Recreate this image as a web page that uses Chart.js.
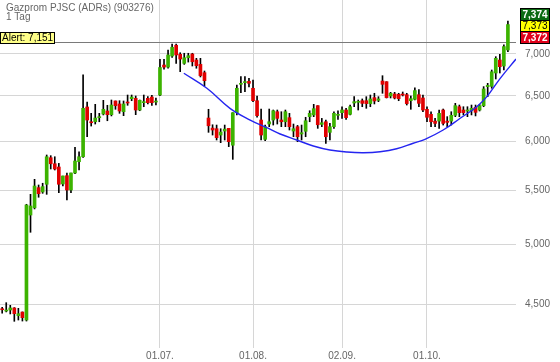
<!DOCTYPE html>
<html>
<head>
<meta charset="utf-8">
<script src="https://cdn.jsdelivr.net/npm/chart.js@4.4.0/dist/chart.umd.min.js"></script>
<style>
  html, body { margin: 0; padding: 0; background: #fff; }
</style>
</head>
<body>
<canvas id="chart" width="560" height="362"></canvas>
<script>
// daily candles, index 0 = first trading day shown
const opens = [4462,4447,4455,4471,4411,4439,4377,5268,5336,5529,5487,5562,5829,5767,5734,5565,5647,5506,5674,5788,
  5839,6375,6211,6211,6256,6297,6330,6289,6443,6409,6322,6431,6469,6473,6341,6424,6473,6488,6431,6511,
  6865,6840,6975,7109,6996,6885,6954,7000,6926,6873,6773,6252,6142,6135,6067,6110,6139,5959,6311,6635,
  6655,6670,6589,6446,6230,6021,6186,6230,6322,6230,6211,6256,6110,6157,6078,6107,6267,6286,6390,6182,
  6211,6096,6157,6282,6311,6341,6293,6420,6428,6446,6446,6413,6481,6451,6674,6666,6500,6523,6519,6519,
  6515,6446,6462,6515,6477,6349,6293,6218,6218,6341,6218,6218,6282,6378,6341,6330,6333,6371,6341,6390,
  6608,6611,6769,6926,6853,7050]
const highs = [4476,4513,4492,4474,4468,4440,5369,5464,5611,5555,5572,5857,5850,5839,5771,5644,5674,5674,5937,5891,
  6746,6431,6304,6405,6304,6450,6394,6454,6443,6446,6443,6511,6511,6500,6454,6511,6492,6508,6477,6935,
  6935,7050,7125,7125,7016,7009,7009,7009,6947,6947,6793,6349,6178,6175,6135,6175,6139,6311,6627,6725,
  6725,6706,6686,6500,6352,6175,6352,6341,6341,6322,6341,6304,6186,6171,6175,6260,6333,6405,6390,6248,
  6230,6193,6322,6333,6378,6360,6397,6492,6454,6466,6492,6511,6531,6492,6737,6666,6542,6542,6531,6546,
  6531,6500,6593,6573,6511,6378,6322,6248,6341,6352,6267,6322,6416,6397,6378,6378,6397,6397,6405,6608,
  6647,6805,6967,6996,7113,7420]
const lows = [4430,4440,4424,4367,4377,4369,4369,5110,5325,5436,5474,5464,5714,5704,5480,5545,5410,5480,5667,5704,
  5833,6049,6164,6186,6211,6286,6222,6275,6349,6304,6278,6394,6446,6289,6333,6378,6409,6394,6397,6504,
  6814,6826,6959,6884,6785,6873,6901,6853,6826,6722,6615,6096,6067,6014,5986,6014,5944,5812,6286,6538,
  6550,6604,6435,6260,6014,6007,6157,6175,6186,6157,6157,6121,6049,5996,6014,6049,6211,6267,6139,6157,
  5979,6014,6139,6237,6248,6237,6286,6378,6341,6378,6360,6378,6409,6435,6531,6477,6477,6466,6446,6500,
  6397,6349,6454,6378,6322,6211,6157,6157,6139,6175,6157,6175,6267,6267,6286,6267,6286,6275,6330,6378,
  6492,6589,6698,6769,6805,7029]
const closes = [4457,4455,4471,4426,4426,4395,5362,5353,5545,5470,5539,5839,5767,5714,5562,5644,5506,5674,5795,5839,
  6360,6230,6200,6252,6267,6349,6289,6397,6390,6330,6409,6420,6488,6341,6450,6435,6424,6424,6439,6835,
  6840,6988,7084,6988,6938,6954,6979,6905,6857,6738,6678,6167,6121,6039,6099,6131,5996,6311,6589,6647,
  6666,6647,6446,6278,6067,6157,6211,6333,6248,6211,6322,6157,6135,6049,6092,6222,6304,6356,6178,6200,
  6049,6157,6304,6293,6341,6256,6378,6435,6435,6416,6413,6466,6443,6466,6635,6481,6531,6477,6469,6511,
  6413,6469,6562,6416,6341,6260,6211,6193,6304,6193,6204,6282,6390,6311,6311,6341,6360,6315,6390,6581,
  6623,6784,6947,6845,7092,7373]

// hand drawn trend arc (candle index, price)
const arcIdx = [44.9,50.6,56.3,61.3,65.4,68.7,72.8,76.9,81.0,85.2,89.3,93.4,97.5,101.6,104.5,109.0,113.2,117.3,119.8,123.1,127.0]
const arcVal = [6766,6589,6360,6230,6146,6078,6014,5951,5909,5888,5881,5891,5922,5980,6021,6121,6249,6378,6492,6706,6938]

const xTickIdx = [39, 62, 84, 105]
const xTickLabels = ['01.07.', '01.08.', '02.09.', '01.10.']
const yTicks = [4500, 5000, 5500, 6000, 6500, 7000]

const alertLevel = 7151
const quoteAsk = 7374, quoteLast = 7373, quoteBid = 7372

const GREEN = '#3cb300'
const RED = '#e00000'
const FONT = "'Liberation Sans', Arial, sans-serif"

const fmt = v => Number(v).toLocaleString('en-US')

const wicks = opens.map((o, i) => ({ x: i, y: [lows[i], highs[i]] }))
const bodies = opens.map((o, i) => ({ x: i, y: [o, closes[i]] }))
const bodyColors = opens.map((o, i) => closes[i] >= o ? GREEN : RED)
const arc = arcIdx.map((x, i) => ({ x: x, y: arcVal[i] }))

// no label overflow padding, the plot runs right to the canvas edges
function noPad(s) {
    s.paddingTop = 0
    s.paddingBottom = 0
    s.paddingLeft = 0
    s.paddingRight = 0
}

const overlay = {
    id: 'overlay',
    beforeDatasetsDraw(chart) {
        const { ctx, chartArea } = chart
        const y = Math.round(chart.scales.y.getPixelForValue(alertLevel)) + 0.5
        ctx.save()
        ctx.strokeStyle = '#7a7a7a'
        ctx.lineWidth = 1
        ctx.beginPath()
        ctx.moveTo(chartArea.left, y)
        ctx.lineTo(chartArea.right, y)
        ctx.stroke()
        ctx.restore()
    },
    afterDraw(chart) {
        const { ctx } = chart
        const ys = chart.scales.y
        ctx.save()
        ctx.font = '10px ' + FONT
        ctx.textBaseline = 'alphabetic'
        ctx.fillStyle = '#666'
        ctx.fillText('Gazprom PJSC (ADRs) (903276)', 6, 11)
        ctx.fillText('1 Tag', 6, 20)

        // alert label
        const ay = Math.round(ys.getPixelForValue(alertLevel))
        ctx.fillStyle = '#ffff88'
        ctx.fillRect(0, ay - 10, 55, 11)
        ctx.strokeStyle = '#000'
        ctx.strokeRect(0.5, ay - 9.5, 54, 11)
        ctx.fillStyle = '#000'
        ctx.textBaseline = 'middle'
        ctx.fillText('Alert: ' + fmt(alertLevel), 2, ay - 4)

        // quote boxes on the right
        const py = Math.round(ys.getPixelForValue(quoteLast)) - 5
        const boxes = [
            { v: quoteAsk, top: py - 12, h: 12, bg: '#0b6a12', fg: '#fff', bold: true },
            { v: quoteLast, top: py, h: 11, bg: '#ffff00', fg: '#000', bold: false },
            { v: quoteBid, top: py + 11, h: 12, bg: '#e0001a', fg: '#fff', bold: true }
        ]
        ctx.textAlign = 'center'
        boxes.forEach(b => {
            ctx.fillStyle = b.bg
            ctx.fillRect(520, b.top, 30, b.h)
            ctx.strokeStyle = '#000'
            ctx.strokeRect(520.5, b.top + 0.5, 29, b.h)
            ctx.fillStyle = b.fg
            ctx.font = (b.bold ? 'bold ' : '') + '10px ' + FONT
            ctx.fillText(fmt(b.v), 535, b.top + b.h / 2 + 1)
        })
        ctx.restore()
    }
}

new Chart(document.getElementById('chart'), {
    type: 'bar',
    data: {
        datasets: [
            {
                type: 'line',
                data: arc,
                borderColor: '#2525f0',
                borderWidth: 1.4,
                pointRadius: 0,
                tension: 0.4,
                order: 0
            },
            {
                data: bodies,
                backgroundColor: bodyColors,
                barThickness: 3,
                minBarLength: 1,
                grouped: false,
                order: 1
            },
            {
                data: wicks,
                backgroundColor: '#000',
                barThickness: 1,
                grouped: false,
                order: 2
            }
        ]
    },
    options: {
        responsive: false,
        animation: false,
        layout: { padding: 0 },
        plugins: { legend: { display: false }, tooltip: { enabled: false } },
        scales: {
            x: {
                type: 'linear',
                bounds: 'data',
                min: -0.54,
                max: 127.0,
                offset: false,
                afterBuildTicks: s => { s.ticks = xTickIdx.map(v => ({ value: v })) },
                afterFit: s => { s.height = 14; noPad(s) },
                grid: { color: '#d6d6d6', drawTicks: false, offset: false },
                border: { display: false },
                ticks: {
                    autoSkip: false,
                    maxRotation: 0,
                    padding: 2,
                    color: '#666',
                    font: { family: FONT, size: 10 },
                    callback: (v, i) => xTickLabels[i]
                }
            },
            y: {
                type: 'logarithmic',
                bounds: 'data',
                position: 'right',
                min: 4166,
                max: 7700,
                afterBuildTicks: s => { s.ticks = yTicks.map(v => ({ value: v })) },
                afterFit: s => { s.width = 44; noPad(s) },
                grid: { color: '#d6d6d6', drawTicks: false },
                border: { display: false },
                ticks: {
                    padding: 9,
                    color: '#666',
                    font: { family: FONT, size: 10 },
                    callback: v => fmt(v)
                }
            }
        }
    },
    plugins: [overlay]
})
</script>
</body>
</html>
